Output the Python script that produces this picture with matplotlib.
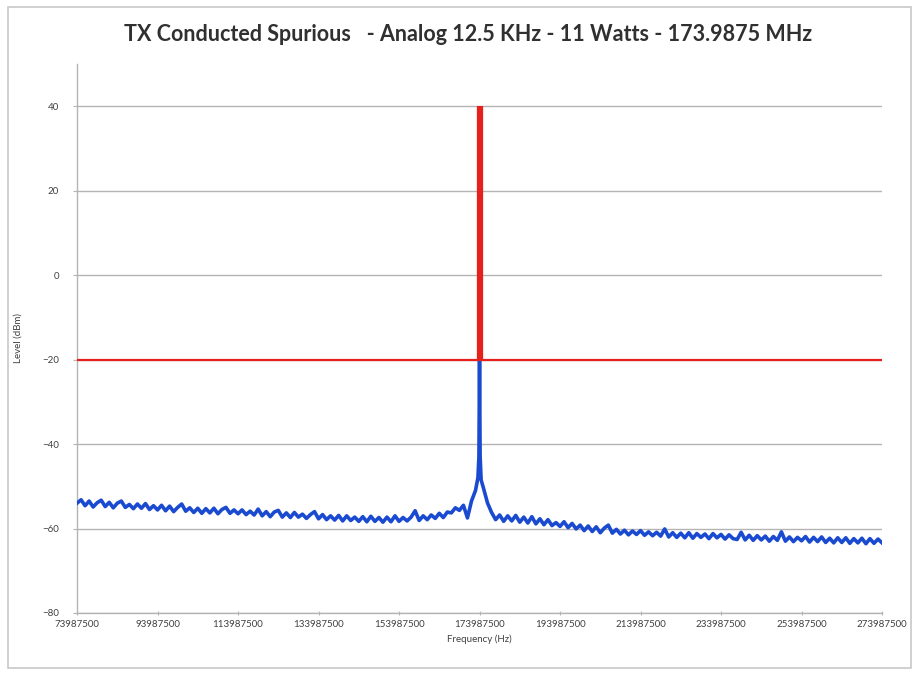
import matplotlib.pyplot as plt
import matplotlib.ticker as ticker
from matplotlib.patches import Rectangle
import numpy as np

plt.rcParams['font.family'] = ['Lato', 'DejaVu Sans']

# spectrum trace, 1 MHz steps from 73.9875 MHz to 273.9875 MHz (dBm)
start_hz = 73987500
step_hz = 1000000
trace_level = [
    -54.0, -53.2, -54.6, -53.5, -54.9, -53.9, -53.3, -54.8, -53.8, -55.1,
    -54.0, -53.5, -55.0, -54.3, -55.3, -54.2, -55.2, -54.1, -55.5, -54.6,
    -55.6, -54.5, -55.8, -54.7, -56.0, -55.0, -54.2, -55.9, -55.1, -56.2,
    -55.2, -56.4, -55.3, -56.3, -55.2, -56.5, -55.5, -55.0, -56.4, -55.6,
    -56.5, -55.6, -56.7, -55.9, -56.8, -55.4, -57.0, -56.0, -57.2, -56.1,
    -55.7, -57.3, -56.3, -57.4, -56.2, -57.3, -56.6, -57.6, -56.7, -56.0,
    -57.7, -56.7, -57.9, -57.0, -58.0, -56.9, -58.2, -57.0, -58.1, -57.3,
    -58.3, -57.2, -58.4, -57.1, -58.3, -57.4, -58.5, -57.3, -58.4, -57.0,
    -58.3, -57.4, -58.2, -57.3, -55.8, -58.1, -57.0, -57.9, -56.8, -57.6,
    -56.4, -57.4, -56.1, -56.3, -55.1, -55.7, -54.5,
    -57.5, -53.5, -51.0, -20.0, -50.5, -54.0,
    -56.2, -57.9, -56.8, -58.3, -57.0, -58.2, -56.9, -58.5, -57.3, -58.7,
    -57.2, -58.9, -57.7, -59.1, -57.9, -59.3, -58.6,
    -59.5, -58.4, -59.8, -58.8, -60.1, -59.2, -60.5, -59.4, -60.7, -59.6,
    -61.0, -59.9, -59.2, -61.1, -60.2, -61.3, -60.4, -61.5, -60.6, -61.4,
    -60.5, -61.6, -60.8, -61.7, -60.9, -61.8, -60.1, -62.0, -61.0, -62.1,
    -61.1, -62.2, -61.0, -62.3, -61.2, -62.1, -61.3, -62.4, -61.2, -62.2,
    -61.4, -62.5, -61.5, -62.4, -62.6, -60.9, -62.7, -61.6, -62.8, -61.7,
    -62.7, -61.8, -63.0, -61.9, -62.8, -60.8, -63.0, -62.0, -63.1, -62.1,
    -62.9, -61.9, -63.2, -62.1, -63.1, -62.0, -63.3, -62.3, -63.4, -62.2,
    -63.3, -62.2, -63.5, -62.4, -63.4, -62.3, -63.6, -62.4, -63.5, -62.5,
    -63.4,
]

# extra points on the carrier skirt
skirt_freq = [173587500, 173837500, 174137500, 174387500]
skirt_level = [-48.0, -43.0, -43.0, -48.5]

# limit mask: -20 dBm line plus the carrier bar
carrier_hz = 173987500
limit_level = -20
carrier_top = 40

x_ticks = [73987500 + 20000000 * k for k in range(11)]
y_ticks = [-80, -60, -40, -20, 0, 20, 40]

trace_freq = start_hz + step_hz * np.arange(len(trace_level))
freq = np.concatenate([trace_freq, skirt_freq])
level = np.concatenate([trace_level, skirt_level])
order = np.argsort(freq)
freq = freq[order]
level = level[order]

fig = plt.figure(figsize=(9.16, 6.73), dpi=100)
fig.patches.append(Rectangle((0.009, 0.008), 0.985, 0.982, transform=fig.transFigure,
                             fill=False, edgecolor='#c8c8c8', linewidth=1.2))
ax = fig.add_axes([0.0841, 0.0892, 0.8788, 0.8157])

ax.plot(freq, level, color='#1a4ad0', linewidth=2.6, zorder=3)
ax.plot([x_ticks[0], x_ticks[-1]], [limit_level, limit_level], color='#e8201c',
        linewidth=1.6, zorder=4)
ax.plot([carrier_hz, carrier_hz], [limit_level, carrier_top], color='#e8201c',
        linewidth=4.5, solid_capstyle='butt', zorder=4)

ax.set_xlim(x_ticks[0], x_ticks[-1])
ax.set_ylim(-80, 50)
ax.xaxis.set_major_locator(ticker.FixedLocator(x_ticks))
ax.xaxis.set_major_formatter(ticker.FuncFormatter(lambda v, p: '%d' % v))
ax.yaxis.set_major_locator(ticker.FixedLocator(y_ticks))
ax.yaxis.grid(True, color='#b4b4b4', linewidth=1.0)
ax.set_axisbelow(True)

for side in ['top', 'right']:
    ax.spines[side].set_visible(False)
for side in ['left', 'bottom']:
    ax.spines[side].set_color('#b4b4b4')
    ax.spines[side].set_linewidth(1.0)

ax.tick_params(axis='x', colors='#b4b4b4', labelcolor='#404040', labelsize=7,
               length=3, direction='inout')
ax.tick_params(axis='y', colors='#b4b4b4', labelcolor='#404040', labelsize=7,
               length=3, pad=10)

ax.set_xlabel('Frequency (Hz)', fontsize=7, color='#404040', labelpad=4)
ax.set_ylabel('Level (dBm)', fontsize=7, color='#404040', labelpad=14)
fig.text(0.511, 0.949, 'TX Conducted Spurious   - Analog 12.5 KHz - 11 Watts - 173.9875 MHz',
         ha='center', va='center', fontsize=15.5, fontweight='bold', color='#303030')

plt.savefig('out.png', dpi=100)
